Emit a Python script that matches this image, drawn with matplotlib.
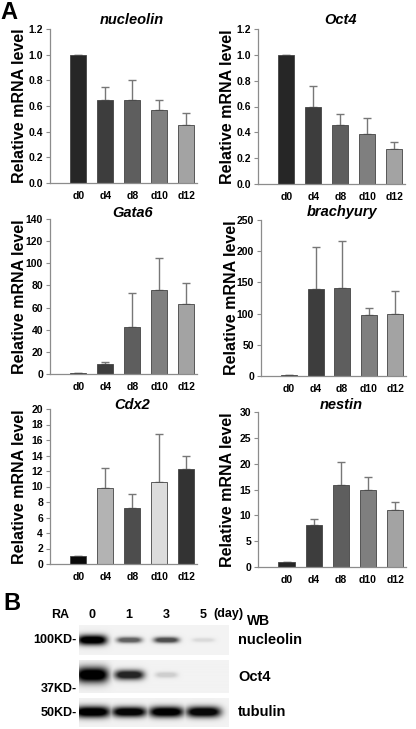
import numpy as np
import matplotlib
matplotlib.use("Agg")
import matplotlib.pyplot as plt

plt.rcParams['font.family'] = ['Liberation Sans', 'DejaVu Sans']
plt.rcParams['font.weight'] = 'bold'

W, H = 416, 729

# ---- panel A data ----
days = ['d0', 'd4', 'd8', 'd10', 'd12']

genes = ['nucleolin', 'Oct4', 'Gata6', 'brachyury', 'Cdx2', 'nestin']

nucleolin_mean = [1.0, 0.65, 0.65, 0.57, 0.45]
nucleolin_err = [0.0, 0.10, 0.155, 0.075, 0.095]
oct4_mean = [1.0, 0.60, 0.455, 0.39, 0.27]
oct4_err = [0.0, 0.16, 0.085, 0.12, 0.055]
gata6_mean = [1.0, 9.0, 42.5, 76.0, 63.0]
gata6_err = [0.0, 1.5, 31.0, 29.0, 19.0]
brachyury_mean = [1.5, 139.0, 141.0, 98.0, 100.0]
brachyury_err = [0.0, 68.0, 75.0, 11.0, 36.0]
cdx2_mean = [1.0, 9.8, 7.2, 10.6, 12.3]
cdx2_err = [0.0, 2.6, 1.8, 6.2, 1.7]
nestin_mean = [1.0, 8.2, 15.8, 14.9, 11.0]
nestin_err = [0.0, 1.0, 4.5, 2.5, 1.5]

y_max = [1.2, 1.2, 140, 250, 20, 30]
y_step = [0.2, 0.2, 20, 50, 2, 5]

grey_cols = ['#262626', '#3d3d3d', '#5e5e5e', '#7f7f7f', '#a3a3a3']
cdx2_cols = ['#0a0a0a', '#b3b3b3', '#4d4d4d', '#dcdcdc', '#333333']

# ---- panel B data (band intensities per lane) ----
lanes = ['0', '1', '3', '5']
blot_rows = ['nucleolin', 'Oct4', 'tubulin']
markers = ['100KD-', '37KD-', '50KD-']
nucleolin_band = [1.0, 0.6, 0.68, 0.1]
oct4_band = [1.0, 0.85, 0.15, 0.0]
tubulin_band = [1.0, 0.98, 0.99, 0.97]

means = [nucleolin_mean, oct4_mean, gata6_mean, brachyury_mean, cdx2_mean, nestin_mean]
errs = [nucleolin_err, oct4_err, gata6_err, brachyury_err, cdx2_err, nestin_err]


def box(left, top, right, bottom):
    return [left / W, 1 - bottom / H, (right - left) / W, (bottom - top) / H]


# pixel boxes (left, top, right, bottom) of each bar panel
boxes = [(50, 29, 197, 183), (258, 29, 405, 184),
         (50, 219, 197, 374), (261, 220, 406, 376),
         (50, 409, 197, 564), (258, 412, 406, 567)]
title_off = [9, 9, 6, 8, 4, 7]

fig = plt.figure(figsize=(W / 100, H / 100), dpi=100)

x = np.arange(len(days))
for i, g in enumerate(genes):
    ax = fig.add_axes(box(*boxes[i]))
    cols = cdx2_cols if g == 'Cdx2' else grey_cols
    ax.bar(x, means[i], width=0.6, color=cols, edgecolor='#444444', linewidth=0.6, zorder=2)
    ax.errorbar(x, means[i], yerr=[np.zeros(len(x)), errs[i]], fmt='none',
                ecolor='#777777', elinewidth=1.0, capsize=3, capthick=1.0, zorder=1)
    ax.set_xlim(-1.05, 4.4)
    ax.set_ylim(0, y_max[i])
    ax.set_yticks(np.arange(0, y_max[i] + y_step[i] / 2, y_step[i]))
    if y_max[i] < 2:
        ax.set_yticklabels(['%.1f' % v for v in ax.get_yticks()])
    ax.set_xticks(x)
    ax.set_xticklabels(days)
    for s in ['top', 'right']:
        ax.spines[s].set_visible(False)
    for s in ['left', 'bottom']:
        ax.spines[s].set_color('#8c8c8c')
        ax.spines[s].set_linewidth(0.9)
    ax.tick_params(axis='y', length=3, width=0.8, color='#8c8c8c', labelsize=7.5, pad=2)
    ax.tick_params(axis='x', length=0, labelsize=7.5, pad=6)
    for lab in ax.get_xticklabels() + ax.get_yticklabels():
        lab.set_fontweight('bold')
    ax.set_ylabel('Relative mRNA level', fontsize=11.5, fontweight='bold')
    ax.yaxis.set_label_coords(-0.155, 0.5)
    ax.annotate(g, xy=(2, 1), xycoords=('data', 'axes fraction'),
                xytext=(0, title_off[i]), textcoords='offset pixels',
                ha='center', va='center', fontsize=10.5, fontweight='bold', style='italic')

fig.text(0 / W, 1 - 1 / H, 'A', fontsize=17, fontweight='bold', ha='left', va='top')
fig.text(3 / W, 1 - 592 / H, 'B', fontsize=17, fontweight='bold', ha='left', va='top')

# ---- western blot strips ----
strips = [(79, 625, 228, 655), (79, 660, 228, 693), (79, 698, 228, 727)]
bands = [nucleolin_band, oct4_band, tubulin_band]
band_y = [0.5, 0.45, 0.48]                  # band centre, fraction of strip from top
band_w = [[0.40, 0.34, 0.34, 0.30], [0.44, 0.40, 0.30, 0.3], [0.49, 0.47, 0.47, 0.47]]
band_h = [[0.17, 0.10, 0.10, 0.07], [0.24, 0.15, 0.09, 0.05], [0.20, 0.18, 0.19, 0.19]]
lane_lim = (-0.35, 3.68)
marker_y = [640, 689, 713]
row_y = [640, 677, 712]

for r, s in enumerate(strips):
    bx = fig.add_axes(box(*s))
    nx, ny = 300, 80
    gx = np.linspace(lane_lim[0], lane_lim[1], nx)
    gy = np.linspace(0, 1, ny)
    XX, YY = np.meshgrid(gx, gy)
    img = np.full_like(XX, 0.05)
    for k, inten in enumerate(bands[r]):
        shape = np.exp(-((XX - k) / band_w[r][k]) ** 4 - ((YY - band_y[r]) / band_h[r][k]) ** 2)
        img = np.maximum(img, 0.05 + 0.95 * inten * np.clip(1.3 * shape, 0, 1))
    bx.imshow(img, cmap='gray_r', vmin=0, vmax=1, aspect='auto',
              extent=(lane_lim[0], lane_lim[1], 1, 0), interpolation='bilinear')
    bx.set_xlim(*lane_lim)
    bx.set_ylim(1, 0)
    bx.axis('off')
    fig.text(238 / W, 1 - row_y[r] / H, blot_rows[r], fontsize=10.5, fontweight='bold',
             ha='left', va='center')
    fig.text(77 / W, 1 - marker_y[r] / H, markers[r], fontsize=9, fontweight='bold',
             ha='right', va='center')
    if r == 0:
        for k, ln in enumerate(lanes):
            bx.annotate(ln, xy=(k, 1), xycoords=('data', 'axes fraction'),
                        xytext=(0, 10), textcoords='offset pixels',
                        ha='center', va='center', fontsize=9, fontweight='bold')

fig.text(60 / W, 1 - 615 / H, 'RA', fontsize=9, fontweight='bold', ha='center', va='center')
fig.text(213 / W, 1 - 614 / H, '(day)', fontsize=9, fontweight='bold', ha='left', va='center')
fig.text(247 / W, 1 - 621 / H, 'WB', fontsize=10, fontweight='bold', ha='left', va='center')

fig.savefig('out.png', dpi=100)
